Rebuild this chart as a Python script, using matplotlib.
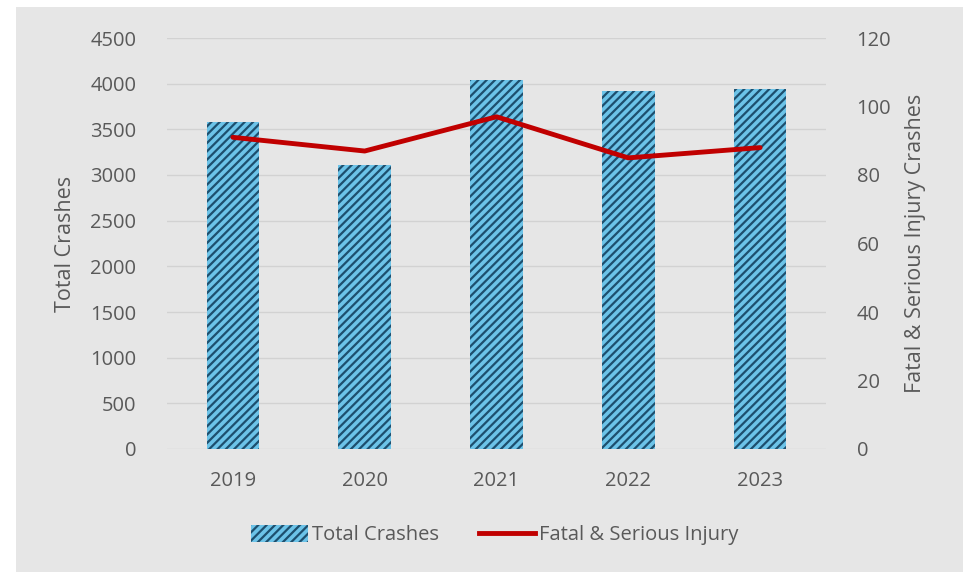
import matplotlib
matplotlib.use("Agg")
import matplotlib.pyplot as plt
from matplotlib.patches import Rectangle, Patch
from matplotlib.lines import Line2D

years = ["2019", "2020", "2021", "2022", "2023"]
total_crashes = [3580, 3110, 4040, 3920, 3940]
fatal_serious = [91, 87, 97, 85, 88]
left_ticks = [0, 500, 1000, 1500, 2000, 2500, 3000, 3500, 4000, 4500]
right_ticks = [0, 20, 40, 60, 80, 100, 120]

plt.rcParams['font.family'] = ['Open Sans', 'DejaVu Sans']
plt.rcParams['hatch.linewidth'] = 1.6
plt.rcParams['hatch.color'] = '#1d4f6e'

W, H = 967, 572
fig = plt.figure(figsize=(W/100, H/100), dpi=100)
fig.patch.set_facecolor('white')
bg = '#e6e6e6'
fig.patches.append(Rectangle((16/W, 0), (963-16)/W, (572-7)/H, transform=fig.transFigure,
                             facecolor=bg, edgecolor='none', zorder=-10))

ax = fig.add_axes([167/W, 1-449/H, (826-167)/W, (449-38)/H])
ax.patch.set_alpha(0)
x = list(range(len(years)))
bar_face = '#6cc3e8'
ax.bar(x, total_crashes, width=0.4, color=bar_face, edgecolor='#1d4f6e', linewidth=0,
       hatch='////', zorder=2)
ax.set_xlim(-0.5, 4.5)
ax.set_ylim(0, 4500)
ax.set_yticks(left_ticks)
ax.set_xticks(x)
ax.set_xticklabels(years)
ax.grid(axis='y', color='#d2d2d2', linewidth=1, zorder=0)
ax.set_axisbelow(True)
for s in ax.spines.values():
    s.set_visible(False)
ax.tick_params(axis='both', length=0, labelsize=14.5, colors='#595959')
ax.tick_params(axis='x', pad=16)
ax.tick_params(axis='y', pad=22)
ax.set_ylabel("Total Crashes", fontsize=15.5, color='#595959', labelpad=10)

ax2 = ax.twinx()
ax2.plot(x, fatal_serious, color='#c00000', linewidth=3.5, solid_capstyle='round', zorder=3)
ax2.set_ylim(0, 120)
ax2.set_yticks(right_ticks)
for s in ax2.spines.values():
    s.set_visible(False)
ax2.tick_params(axis='y', length=0, labelsize=14.5, colors='#595959', pad=22)
ax2.set_ylabel("Fatal & Serious Injury Crashes", fontsize=15.5, color='#595959', labelpad=10)

handles = [Patch(facecolor=bar_face, edgecolor='#1d4f6e', linewidth=0, hatch='////'),
           Line2D([0], [0], color='#c00000', linewidth=3.5)]
fig.legend(handles, ["Total Crashes", "Fatal & Serious Injury"], loc='center',
           bbox_to_anchor=(495/W, 1-535/H), ncol=2, frameon=False, fontsize=14.5,
           labelcolor='#595959', handlelength=2.8, handleheight=0.9, handletextpad=0.2,
           columnspacing=2.0)

fig.savefig("out.png", dpi=100)
